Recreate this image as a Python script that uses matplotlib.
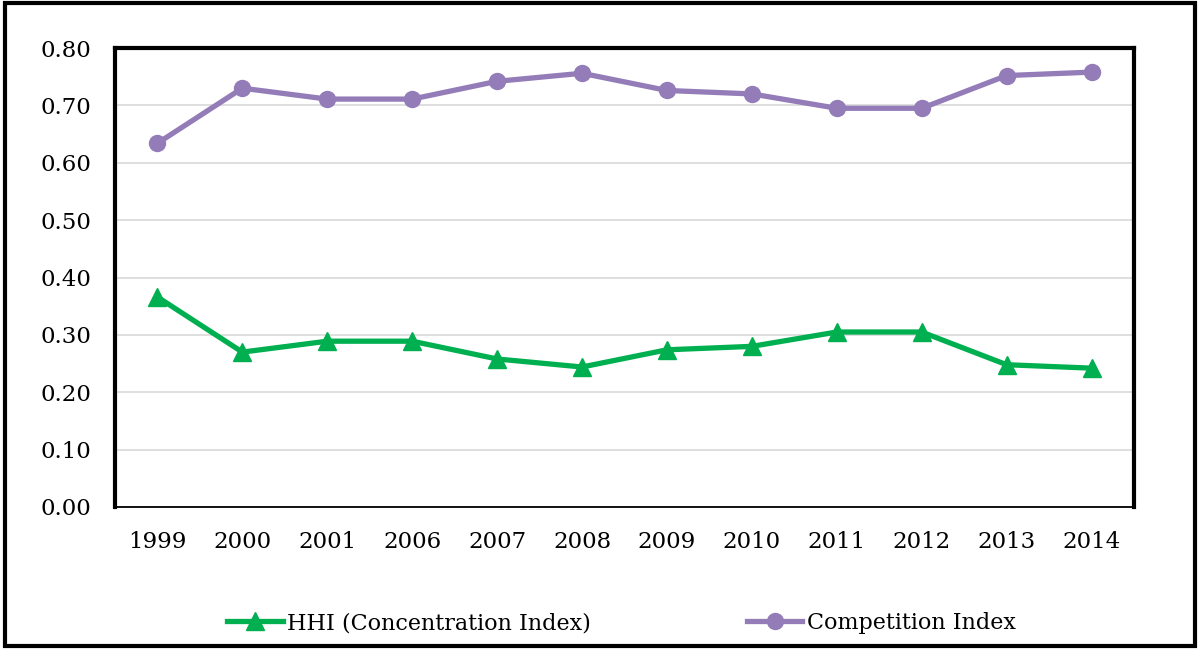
import matplotlib.pyplot as plt
from matplotlib.patches import Rectangle

# Roczne wskaźniki koncentracji i konkurencji
years = ['1999', '2000', '2001', '2006', '2007', '2008',
         '2009', '2010', '2011', '2012', '2013', '2014']
hhi = [0.366, 0.270, 0.289, 0.289, 0.258, 0.244,
       0.274, 0.280, 0.305, 0.305, 0.248, 0.242]
competition = [0.634, 0.730, 0.711, 0.711, 0.742, 0.756,
               0.726, 0.720, 0.695, 0.695, 0.752, 0.758]
y_ticks = [0.0, 0.1, 0.2, 0.3, 0.4, 0.5, 0.6, 0.7, 0.8]

green = '#00B050'
purple = '#937CB7'

plt.rcParams['font.family'] = ['DejaVu Serif']

fig = plt.figure(figsize=(12, 6.49), dpi=100)
ax = fig.add_axes([0.0958, 0.2188, 0.8492, 0.7072])

x = range(len(years))
ax.plot(x, hhi, color=green, lw=3.8, marker='^', markersize=13,
        label='HHI (Concentration Index)', zorder=3)
ax.plot(x, competition, color=purple, lw=3.8, marker='o', markersize=11.5,
        label='Competition Index', zorder=3)

ax.set_xlim(-0.5, len(years) - 0.5)
ax.set_ylim(0, 0.8)
ax.set_xticks(list(x))
ax.set_xticklabels(years, fontsize=16.5)
ax.set_yticks(y_ticks)
ax.set_yticklabels([f'{v:.2f}' for v in y_ticks], fontsize=16.5)
ax.tick_params(length=0)
ax.tick_params(axis='y', pad=17)
ax.tick_params(axis='x', pad=17)

ax.grid(axis='y', color='#D9D9D9', lw=1.2, zorder=0)
ax.set_axisbelow(True)
for side in ['left', 'top', 'right']:
    ax.spines[side].set_linewidth(3)
    ax.spines[side].set_color('black')
ax.spines['bottom'].set_linewidth(1.3)
ax.spines['bottom'].set_color('black')

fig.legend(loc='center', bbox_to_anchor=(0.518, 0.040), ncol=2, frameon=False,
           fontsize=16, handlelength=2.5, handletextpad=0.2, columnspacing=7)

# Ramka wokół całego wykresu
fig.patches.append(Rectangle((0.004, 0.004), 0.992, 0.992, transform=fig.transFigure,
                             fill=False, edgecolor='black', lw=3))

fig.savefig('out.png', dpi=100)
